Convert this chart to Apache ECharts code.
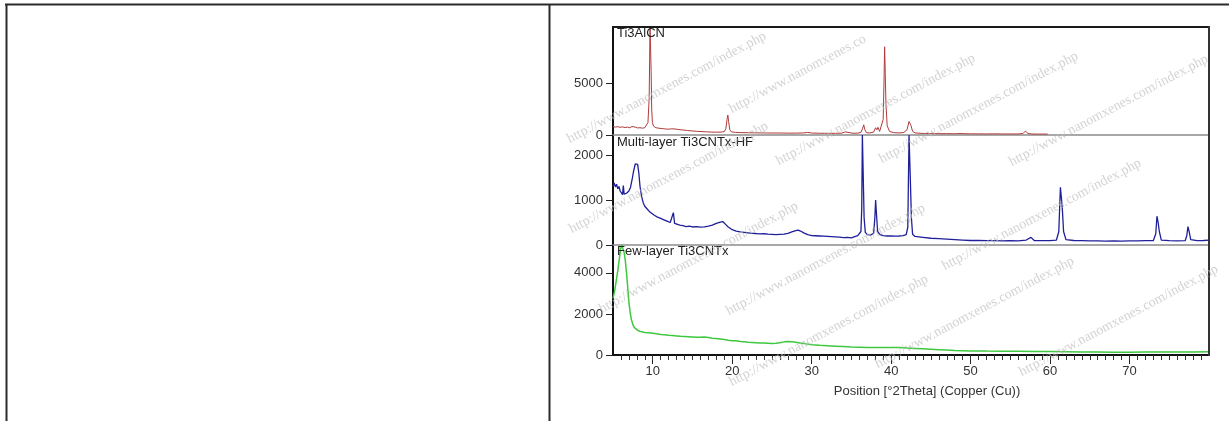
<!DOCTYPE html>
<html>
<head>
<meta charset="utf-8">
<script src="https://cdn.jsdelivr.net/npm/echarts@6/dist/echarts.min.js"></script>
<style>
  html, body { margin: 0; padding: 0; background: #ffffff; }
  #chart { width: 1229px; height: 421px; }
</style>
</head>
<body>
<div id="chart"></div>
<script>
// XRD patterns, intensity (counts) against 2-theta (degrees), Cu radiation

const panelTitles = ['Ti3AlCN', 'Multi-layer Ti3CNTx-HF', 'Few-layer Ti3CNTx'];
const xAxisTitle = 'Position [°2Theta] (Copper (Cu))';

const xMajorTicks = [10, 20, 30, 40, 50, 60, 70];
const xMinorTicks = [6, 7, 8, 9, 10, 11, 12, 13, 14, 15, 16, 17, 18, 19, 20, 21, 22, 23, 24, 25,
  26, 27, 28, 29, 30, 31, 32, 33, 34, 35, 36, 37, 38, 39, 40, 41, 42, 43, 44, 45, 46, 47, 48, 49,
  50, 51, 52, 53, 54, 55, 56, 57, 58, 59, 60, 61, 62, 63, 64, 65, 66, 67, 68, 69, 70, 71, 72, 73,
  74, 75, 76, 77, 78, 79];

const yTicksTop = [0, 5000];
const yTicksMid = [0, 1000, 2000];
const yTicksBottom = [0, 2000, 4000];
const yMaxTop = 10400;
const yMaxMid = 2444;
const yMaxBottom = 5360;

// Ti3AlCN MAX phase
const ti3alcn = [
  [5.0, 820], [5.3, 760], [5.6, 800], [5.9, 740], [6.2, 780], [6.5, 720], [6.8, 760], [7.1, 700],
  [7.4, 820], [7.6, 900], [7.8, 760], [8.1, 680], [8.4, 700], [8.7, 660], [9.0, 700], [9.2, 760],
  [9.4, 1200], [9.55, 3500], [9.66, 10400], [9.74, 10400], [9.8, 6100], [9.87, 2500], [9.96, 1200],
  [10.1, 850], [10.4, 700], [10.8, 650], [11.2, 620], [11.6, 580], [12.0, 560], [12.4, 600],
  [12.6, 740], [12.8, 580], [13.3, 520], [13.8, 480], [14.4, 430], [15.0, 390], [15.6, 350],
  [16.2, 330], [16.8, 300], [17.4, 280], [18.0, 270], [18.6, 280], [19.0, 330], [19.2, 600],
  [19.35, 1500], [19.45, 1920], [19.55, 1300], [19.7, 500], [19.9, 300], [20.4, 250], [21.0, 230],
  [22.0, 220], [23.0, 210], [24.0, 200], [25.0, 190], [26.0, 190], [27.0, 180], [28.0, 180],
  [29.0, 200], [29.5, 250], [30.0, 190], [31.0, 170], [32.0, 160], [33.0, 160], [33.8, 180],
  [34.2, 300], [34.45, 400], [34.7, 240], [35.2, 170], [35.8, 180], [36.2, 250], [36.4, 600],
  [36.55, 980], [36.7, 500], [36.9, 220], [37.3, 200], [37.8, 280], [38.05, 700], [38.2, 500],
  [38.35, 740], [38.55, 350], [38.8, 400], [39.0, 1500], [39.1, 5000], [39.18, 8490], [39.26, 5900],
  [39.35, 3000], [39.5, 900], [39.8, 350], [40.3, 230], [41.0, 200], [41.6, 240], [42.0, 500],
  [42.25, 1300], [42.35, 1440], [42.5, 900], [42.7, 350], [43.0, 200], [44.0, 150], [45.0, 140],
  [46.0, 130], [47.0, 130], [48.0, 120], [48.8, 140], [49.0, 220], [49.2, 130], [50.0, 110],
  [51.0, 110], [52.0, 100], [52.8, 110], [53.0, 170], [53.2, 110], [54.0, 100], [55.0, 100],
  [56.0, 100], [56.6, 140], [56.9, 380], [57.2, 160], [57.6, 100], [58.5, 90], [59.7, 90]
];

// HF-etched multilayer MXene
const multiLayer = [
  [5.0, 1300], [5.15, 1380], [5.3, 1290], [5.45, 1350], [5.6, 1250], [5.75, 1300], [5.9, 1200],
  [6.05, 1160], [6.2, 1120], [6.3, 1320], [6.4, 1130], [6.55, 1100], [6.7, 1150], [6.85, 1120],
  [7.0, 1200], [7.2, 1280], [7.4, 1450], [7.6, 1650], [7.8, 1800], [7.95, 1840], [8.1, 1790],
  [8.25, 1600], [8.4, 1300], [8.6, 1080], [8.8, 940], [9.0, 860], [9.3, 800], [9.6, 740],
  [9.9, 700], [10.2, 660], [10.6, 620], [11.0, 590], [11.4, 560], [11.8, 530], [12.2, 500],
  [12.45, 520], [12.6, 720], [12.75, 480], [13.0, 470], [13.4, 440], [13.8, 430], [14.2, 410],
  [14.6, 420], [15.0, 400], [15.5, 410], [16.0, 395], [16.5, 405], [17.0, 420], [17.5, 440],
  [18.0, 480], [18.5, 510], [18.8, 520], [19.1, 470], [19.5, 400], [20.0, 340], [20.5, 310],
  [21.0, 290], [21.5, 280], [22.0, 270], [22.5, 260], [23.0, 255], [23.5, 245], [24.0, 250],
  [24.5, 240], [25.0, 235], [25.5, 230], [26.0, 235], [26.5, 240], [27.0, 260], [27.5, 290],
  [28.0, 320], [28.3, 330], [28.6, 310], [29.0, 270], [29.5, 230], [30.0, 210], [30.5, 205],
  [31.0, 200], [31.5, 195], [32.0, 190], [32.5, 185], [33.0, 180], [33.5, 175], [34.0, 165],
  [34.5, 170], [35.0, 160], [35.5, 190], [35.8, 210], [36.0, 230], [36.2, 300], [36.3, 800],
  [36.38, 2444], [36.46, 2444], [36.5, 1440], [36.6, 600], [36.75, 280], [37.0, 230], [37.4, 220],
  [37.8, 260], [37.95, 600], [38.05, 1000], [38.15, 700], [38.3, 300], [38.6, 230], [39.0, 210],
  [39.5, 200], [40.0, 200], [40.5, 195], [41.0, 200], [41.5, 210], [41.9, 230], [42.1, 400],
  [42.25, 2444], [42.35, 2444], [42.42, 1440], [42.55, 600], [42.7, 240], [43.0, 190], [43.5, 180],
  [44.0, 170], [45.0, 150], [46.0, 140], [47.0, 130], [48.0, 120], [49.0, 110], [50.0, 100],
  [51.0, 100], [52.0, 95], [53.0, 95], [54.0, 90], [55.0, 95], [56.0, 90], [57.0, 110], [57.6, 170],
  [58.0, 100], [59.0, 95], [60.0, 95], [60.8, 110], [61.1, 300], [61.3, 1280], [61.45, 1000],
  [61.55, 780], [61.7, 300], [62.0, 120], [63.0, 100], [64.0, 95], [65.0, 90], [66.0, 90],
  [67.0, 85], [68.0, 90], [69.0, 85], [70.0, 90], [71.0, 90], [72.0, 95], [73.0, 100], [73.3, 250],
  [73.45, 640], [73.6, 500], [73.75, 300], [74.0, 110], [75.0, 95], [76.0, 90], [77.0, 95],
  [77.2, 200], [77.35, 410], [77.5, 300], [77.7, 120], [78.5, 95], [79.3, 100], [80.0, 110]
];

// Delaminated few-layer MXene
const fewLayer = [
  [5.0, 2760], [5.2, 3100], [5.4, 3600], [5.6, 4100], [5.8, 4700], [5.95, 5150], [6.1, 5360],
  [6.25, 5300], [6.4, 5000], [6.55, 4600], [6.7, 4000], [6.85, 3300], [7.0, 2600], [7.15, 2100],
  [7.3, 1750], [7.5, 1480], [7.7, 1330], [7.9, 1240], [8.2, 1180], [8.5, 1140], [9.0, 1100],
  [9.5, 1080], [10.0, 1060], [10.5, 1030], [11.0, 1000], [11.5, 990], [12.0, 960], [12.5, 950],
  [13.0, 930], [13.5, 910], [14.0, 900], [14.5, 890], [15.0, 880], [15.5, 870], [16.0, 860],
  [16.5, 880], [17.0, 850], [17.5, 820], [18.0, 800], [18.5, 780], [19.0, 760], [19.5, 720],
  [20.0, 700], [20.5, 690], [21.0, 660], [21.5, 640], [22.0, 620], [22.5, 610], [23.0, 600],
  [23.5, 590], [24.0, 580], [24.5, 570], [25.0, 560], [25.5, 570], [26.0, 600], [26.5, 640],
  [27.0, 660], [27.5, 650], [28.0, 620], [28.5, 590], [29.0, 560], [29.5, 530], [30.0, 500],
  [31.0, 470], [32.0, 450], [33.0, 430], [34.0, 410], [35.0, 390], [36.0, 380], [37.0, 370],
  [38.0, 360], [39.0, 360], [40.0, 370], [41.0, 360], [42.0, 340], [43.0, 320], [44.0, 300],
  [45.0, 280], [46.0, 260], [47.0, 240], [48.0, 220], [49.0, 210], [50.0, 200], [52.0, 190],
  [54.0, 185], [56.0, 180], [58.0, 170], [60.0, 165], [62.0, 160], [64.0, 150], [66.0, 145],
  [68.0, 140], [70.0, 140], [72.0, 145], [74.0, 150], [76.0, 150], [78.0, 150], [80.0, 155]
];

// site stamp repeated across the plot: start point of each copy
const stampText = 'http://www.nanomxenes.com/index.php';
const stampStarts = [
  [568, 140], [777, 162], [880, 160], [1010, 163], [570, 230], [943, 267],
  [600, 310], [727, 312], [730, 383], [876, 365], [1020, 373]
];
const stampClipped = { start: [730, 110], text: 'http://www.nanomxenes.co' };

const FONT = '"Liberation Sans", Arial, sans-serif';
const STAMP_FONT = '14px "Liberation Serif", "Times New Roman", serif';
const PLOT = { left: 613, right: 1209, top: 27, bottom: 355 };
const panelTops = [27, 135, 245];
const panelHeights = [108, 110, 110];

const chart = echarts.init(document.getElementById('chart'), null, { renderer: 'canvas' });

const labelFmt = v => String(v);

function yAxisFor(gridIndex, max, ticks) {
  return {
    type: 'value', gridIndex, min: 0, max,
    axisLine: { show: true, lineStyle: { color: '#111', width: 2 } },
    axisTick: { show: true, length: 7, customValues: ticks, lineStyle: { color: '#222', width: 1 } },
    axisLabel: { customValues: ticks, formatter: labelFmt, margin: 10, fontSize: 13, color: '#333', fontFamily: FONT },
    splitLine: { show: false }
  };
}

function separatorAxis(gridIndex) {
  return {
    type: 'value', gridIndex, min: 5, max: 80, position: 'bottom',
    axisLine: { show: true, onZero: false, lineStyle: { color: '#8c8c8c', width: 1.5 } },
    axisTick: { show: false }, axisLabel: { show: false }, splitLine: { show: false }
  };
}

function stamp(x, y, text) {
  return {
    type: 'text', x, y, rotation: 28 * Math.PI / 180, z: 50, silent: true,
    style: { text, fill: '#bcbcbc', opacity: 0.65, font: STAMP_FONT, textAlign: 'left', textVerticalAlign: 'middle' }
  };
}

const stampGraphics = stampStarts.map(p => stamp(p[0], p[1], stampText));
stampGraphics.push(stamp(stampClipped.start[0], stampClipped.start[1], stampClipped.text));

const option = {
  animation: false,
  backgroundColor: '#ffffff',
  title: panelTitles.map((t, i) => ({
    text: t, left: 617, top: [27, 136, 245][i], padding: 0,
    textStyle: { fontSize: 13, fontWeight: 'normal', color: '#222', fontFamily: FONT }
  })),
  grid: panelTops.map((top, i) => ({ left: PLOT.left, top, width: PLOT.right - PLOT.left, height: panelHeights[i], containLabel: false })),
  xAxis: [
    separatorAxis(0),
    separatorAxis(1),
    {
      type: 'value', gridIndex: 2, min: 5, max: 80, position: 'bottom',
      name: xAxisTitle, nameLocation: 'middle', nameGap: 30,
      nameTextStyle: { fontSize: 13, color: '#333', fontFamily: FONT, padding: [0, 0, 0, 32] },
      axisLine: { show: true, onZero: false, lineStyle: { color: '#111', width: 2 } },
      axisTick: { show: true, length: 9, customValues: xMajorTicks, lineStyle: { color: '#222', width: 1 } },
      axisLabel: { customValues: xMajorTicks, formatter: labelFmt, margin: 10, fontSize: 13, color: '#333', fontFamily: FONT },
      splitLine: { show: false }
    },
    {
      type: 'value', gridIndex: 2, min: 5, max: 80, position: 'bottom',
      axisLine: { show: false },
      axisTick: { show: true, length: 5, customValues: xMinorTicks, lineStyle: { color: '#333', width: 1 } },
      axisLabel: { show: false }, splitLine: { show: false }
    }
  ],
  yAxis: [
    yAxisFor(0, yMaxTop, yTicksTop),
    yAxisFor(1, yMaxMid, yTicksMid),
    yAxisFor(2, yMaxBottom, yTicksBottom)
  ],
  series: [
    { name: panelTitles[0], type: 'line', xAxisIndex: 0, yAxisIndex: 0, data: ti3alcn, showSymbol: false, clip: true,
      lineStyle: { color: '#b03a3a', width: 1 } },
    { name: panelTitles[1], type: 'line', xAxisIndex: 1, yAxisIndex: 1, data: multiLayer, showSymbol: false, clip: true,
      lineStyle: { color: '#1f1f9a', width: 1.3 } },
    { name: panelTitles[2], type: 'line', xAxisIndex: 2, yAxisIndex: 2, data: fewLayer, showSymbol: false, clip: true,
      lineStyle: { color: '#3fc83f', width: 1.5 } }
  ],
  graphic: [
    // page frame: top rule, left rule and the column divider
    { type: 'line', z: 10, shape: { x1: 5, y1: 4.5, x2: 1229, y2: 4.5 }, style: { stroke: '#2b2b2b', lineWidth: 2 } },
    { type: 'line', z: 10, shape: { x1: 6.5, y1: 4, x2: 6.5, y2: 421 }, style: { stroke: '#2b2b2b', lineWidth: 2 } },
    { type: 'line', z: 10, shape: { x1: 549.5, y1: 4, x2: 549.5, y2: 421 }, style: { stroke: '#2b2b2b', lineWidth: 2 } },
    // plot frame: top and right edges
    { type: 'line', z: 10, shape: { x1: PLOT.left - 1, y1: PLOT.top, x2: PLOT.right + 1, y2: PLOT.top }, style: { stroke: '#1a1a1a', lineWidth: 2 } },
    { type: 'line', z: 10, shape: { x1: PLOT.right, y1: PLOT.top - 1, x2: PLOT.right, y2: PLOT.bottom + 1 }, style: { stroke: '#333', lineWidth: 2 } }
  ].concat(stampGraphics)
};

chart.setOption(option);
</script>
</body>
</html>
